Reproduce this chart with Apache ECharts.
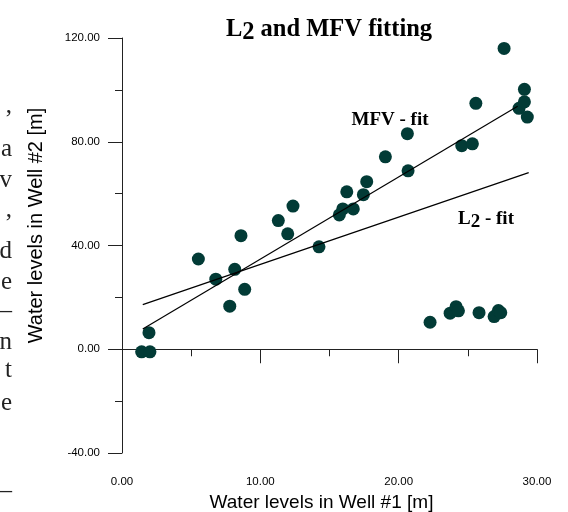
<!DOCTYPE html>
<html>
<head>
<meta charset="utf-8">
<script src="https://cdn.jsdelivr.net/npm/echarts@6/dist/echarts.min.js"></script>
<style>
  html, body { margin: 0; padding: 0; background: #fff; }
  #main { width: 568px; height: 512px; }
</style>
</head>
<body>
<div id="main"></div>
<script>
// water levels, well #1 (x) and well #2 (y)
var well1 = [1.42, 2.02, 1.95, 5.52, 6.78, 7.79, 8.15, 8.60, 8.87, 11.30,
             11.98, 12.36, 14.24, 15.71, 15.96, 16.25, 16.72, 17.45, 17.69, 19.04,
             20.63, 20.68, 24.56, 25.33, 25.58, 27.62, 28.70, 29.09, 29.09, 29.30,
             22.27, 23.72, 24.15, 24.32, 25.81, 26.90, 27.21, 27.38];
var well2 = [-1.0, -1.0, 6.4, 34.8, 27.0, 16.6, 30.8, 43.8, 23.1, 49.6,
             44.5, 55.2, 39.5, 51.8, 54.1, 60.7, 54.1, 59.6, 64.6, 74.2,
             83.1, 68.8, 78.5, 79.2, 94.8, 116.0, 92.9, 95.4, 100.2, 89.5,
             10.4, 13.9, 16.4, 14.8, 14.1, 12.6, 14.9, 14.1];

// fitted lines (end points)
var mfvX = [1.5, 28.6];
var mfvY = [7.8, 93.7];
var l2X = [1.5, 29.4];
var l2Y = [17.2, 68.1];

// cut-off text of the page to the left of the figure
var sideChars = [',', 'a', 'v', ',', 'd', 'e', '–', 'n', 't', 'e', '–'];
var sideBase = [119, 162, 193, 223, 264, 295, 324, 355, 383, 416, 504];

function pairs(xs, ys) {
  var out = [];
  for (var i = 0; i < xs.length; i++) out.push([xs[i], ys[i]]);
  return out;
}

var serif = '"Liberation Serif", "Times New Roman", serif';
var sans = '"Liberation Sans", Arial, sans-serif';

var graphics = sideChars.map(function (c, i) {
  return {
    type: 'text', x: 12, y: sideBase[i],
    style: { text: c, font: '25px ' + serif, fill: '#222', textAlign: 'right', textVerticalAlign: 'bottom' }
  };
});

graphics.push({
  type: 'text', x: 390, y: 120,
  style: { text: 'MFV - fit', font: 'bold 19px ' + serif, fill: '#000', textAlign: 'center', textVerticalAlign: 'middle' }
});
graphics.push({
  type: 'text', x: 486, y: 219,
  style: {
    text: '{a|L}{b|2}{a| - fit}', align: 'center', verticalAlign: 'middle',
    rich: {
      a: { fontFamily: serif, fontWeight: 'bold', fontSize: 19, color: '#000' },
      b: { fontFamily: serif, fontWeight: 'bold', fontSize: 19, color: '#000', padding: [6, 0, 0, 0] }
    }
  }
});

var axisCommon = {
  axisLine: { lineStyle: { color: '#222', width: 1 } },
  axisTick: { length: 14, lineStyle: { color: '#222' } },
  minorTick: { show: true, splitNumber: 2, length: 7, lineStyle: { color: '#222' } },
  splitLine: { show: false },
  axisLabel: {
    fontFamily: sans, fontSize: 11.5, color: '#000',
    formatter: function (v) { return v.toFixed(2); }
  },
  nameLocation: 'middle'
};

var option = {
  animation: false,
  backgroundColor: '#fff',
  title: {
    text: '{a|L}{b|2}{a| and MFV fitting}',
    left: 324, top: 9, textAlign: 'center',
    textStyle: {
      rich: {
        a: { fontFamily: serif, fontWeight: 'bold', fontSize: 24.5, color: '#000' },
        b: { fontFamily: serif, fontWeight: 'bold', fontSize: 24.5, color: '#000', padding: [6, 0, 0, 0] }
      }
    }
  },
  grid: { left: 122, right: 31, top: 38, bottom: 59, containLabel: false, outerBoundsMode: 'none' },
  xAxis: Object.assign({}, axisCommon, {
    type: 'value', min: 0, max: 30, interval: 10,
    name: 'Water levels in Well #1 [m]', nameGap: 33,
    axisLabel: Object.assign({}, axisCommon.axisLabel, { margin: 23 }),
    nameTextStyle: { fontFamily: sans, fontSize: 19, color: '#000', padding: [0, 16, 0, 0] }
  }),
  yAxis: Object.assign({}, axisCommon, {
    type: 'value', min: -40, max: 120, interval: 40,
    name: 'Water levels in Well #2 [m]', nameGap: 76,
    axisLabel: Object.assign({}, axisCommon.axisLabel, { margin: 22 }),
    nameTextStyle: { fontFamily: sans, fontSize: 20, color: '#000', padding: [0, 0, 0, 40] }
  }),
  graphic: graphics,
  series: [
    {
      type: 'line', data: pairs(l2X, l2Y), showSymbol: false, silent: true,
      lineStyle: { color: '#000', width: 1.2 }
    },
    {
      type: 'line', data: pairs(mfvX, mfvY), showSymbol: false, silent: true,
      lineStyle: { color: '#000', width: 1.2 }
    },
    {
      type: 'scatter', data: pairs(well1, well2), symbolSize: 13,
      itemStyle: { color: '#023b36', opacity: 1 }
    }
  ]
};

var chart = echarts.init(document.getElementById('main'));
chart.setOption(option);
</script>
</body>
</html>
